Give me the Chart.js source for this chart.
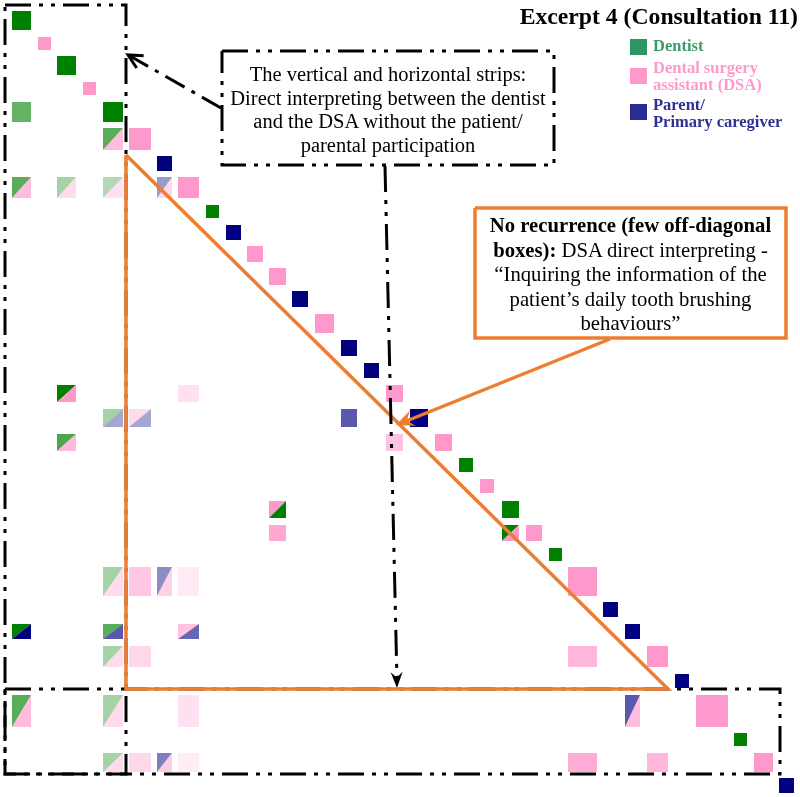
<!DOCTYPE html>
<html>
<head>
<meta charset="utf-8">
<script src="https://cdn.jsdelivr.net/npm/chart.js@4.4.1/dist/chart.umd.min.js"></script>
<style>
html,body{margin:0;padding:0;background:#fff;}
#wrap{position:relative;width:800px;height:797px;overflow:hidden;background:#fff;}
#c{position:absolute;left:0;top:0;}
.t{position:absolute;font-family:"Liberation Serif","Times New Roman",serif;color:#000;white-space:nowrap;}
.sq{position:absolute;width:17px;height:16px;}
.lg{position:absolute;left:653px;font-family:"Liberation Serif","Times New Roman",serif;font-weight:bold;font-size:16.5px;white-space:nowrap;}
</style>
</head>
<body>
<div id="wrap">
<canvas id="c" width="800" height="797"></canvas>

<div class="t" style="left:0;top:3px;width:798px;text-align:right;font-weight:bold;font-size:23.7px;line-height:26px;">Excerpt 4 (Consultation 11)</div>

<div class="sq" style="left:630px;top:39px;background:#2e9664;"></div>
<div class="lg" style="top:37px;line-height:17.5px;color:#3d9a6c;">Dentist</div>
<div class="sq" style="left:630px;top:68px;background:#ff99cc;"></div>
<div class="lg" style="top:59px;line-height:17.4px;color:#ff99cc;">Dental surgery<br>assistant (DSA)</div>
<div class="sq" style="left:630px;top:104px;background:#2b2b96;"></div>
<div class="lg" style="top:97px;line-height:16.6px;color:#2e3192;">Parent/<br>Primary caregiver</div>

<div class="t" style="left:222px;top:63px;width:332px;text-align:center;font-size:20.5px;line-height:23.5px;">The vertical and horizontal strips:<br>Direct interpreting between the dentist<br>and the DSA without the patient/<br>parental participation</div>

<div class="t" style="left:475px;top:213px;width:311px;text-align:center;font-size:20.7px;line-height:24.5px;"><b>No recurrence (few off-diagonal</b><br><b>boxes):</b> DSA direct interpreting -<br>“Inquiring the information of the<br>patient’s daily tooth brushing<br>behaviours”</div>
</div>

<script>
// ---------------- DATA ----------------
const turns = ['T1','T2','T3','T4','T5','T6','T7','T8','T9','T10','T11','T12','T13','T14','T15','T16','T17','T18','T19','T20','T21','T22','T23','T24','T25','T26','T27','T28','T29','T30','T31','T32','T33'];
const speakers = ['Dentist','DSA','Dentist','DSA','Dentist','DSA','Parent','DSA','Dentist','Parent','DSA','DSA','Parent','DSA','Parent','Parent','DSA','Parent','DSA','Dentist','DSA','Dentist','DSA','Dentist','DSA','Parent','Parent','DSA','Parent','DSA','Dentist','DSA','Parent'];
const turnStart  = [0,26,45,71,91,117,145,166,194,214,235,257,280,303,329,352,374,398,423,447,468,490,514,537,556,591,613,635,663,684,722,742,767];
const turnLength = [19,13,19,13,20,22,15,21,13,15,16,17,16,19,16,15,17,18,17,14,14,17,16,13,29,15,15,21,14,32,13,19,15];

// off-diagonal recurrences (row turn, column turn, strength)
const recRow = [5,6,8,8,8,8,17,17,18,18,18,19,19,22,23,23,25,25,25,25,27,27,27,28,28,28,30,30,30,30,32,32,32,32,32,32];
const recCol = [1,5,1,3,5,7,3,8,5,6,15,3,17,12,12,22,5,6,7,8,1,5,8,5,6,25,1,5,8,27,5,6,7,8,25,28];
const recStrength = [0.6,0.65,0.65,0.35,0.3,0.4,1,0.3,0.35,0.35,0.65,0.7,0.6,1,0.85,1,0.35,0.55,0.45,0.2,1,0.65,0.6,0.35,0.38,0.7,0.65,0.35,0.3,0.65,0.35,0.38,0.5,0.18,0.8,0.7];

const axisMax = 782;

// ---------------- STYLE ----------------
const speakerRGB = { Dentist:[0,128,0], DSA:[255,153,204], Parent:[0,0,128] };
function rgba(sp,a){ const c=speakerRGB[sp]; return 'rgba('+c[0]+','+c[1]+','+c[2]+','+a+')'; }

// ---------------- BUILD DATASETS ----------------
function cell(r,c,a){
  return {
    x: turnStart[c]+turnLength[c]/2, y: turnStart[r]+turnLength[r]/2,
    x0: turnStart[c], x1: turnStart[c]+turnLength[c],
    y0: turnStart[r], y1: turnStart[r]+turnLength[r],
    colA: speakers[c], colB: speakers[r], a: a, label: turns[r]+' × '+turns[c]
  };
}
const datasets = ['Dentist','DSA','Parent'].map(sp => ({
  label: sp,
  data: turns.map((t,i)=>i).filter(i=>speakers[i]===sp).map(i=>cell(i,i,1)),
  pointRadius: 0, backgroundColor: rgba(sp,1)
}));
datasets.push({
  label: 'Recurrence',
  data: recRow.map((r,k)=>cell(r-1, recCol[k]-1, recStrength[k])),
  pointRadius: 0
});

// ---------------- PLUGINS ----------------
const cellPlugin = {
  id: 'cells',
  afterDatasetsDraw(chart){
    const ctx = chart.ctx, xs = chart.scales.x, ys = chart.scales.y;
    ctx.save();
    chart.data.datasets.forEach(ds => {
      ds.data.forEach(p => {
        const X0 = xs.getPixelForValue(p.x0), X1 = xs.getPixelForValue(p.x1);
        const Y0 = ys.getPixelForValue(p.y0), Y1 = ys.getPixelForValue(p.y1);
        if (p.colA === p.colB) {
          ctx.fillStyle = rgba(p.colA, p.a);
          ctx.fillRect(X0, Y0, X1-X0, Y1-Y0);
        } else {
          ctx.fillStyle = 'rgba(255,255,255,1)';
          ctx.fillRect(X0, Y0, X1-X0, Y1-Y0);
          ctx.beginPath(); ctx.moveTo(X0,Y0); ctx.lineTo(X1,Y0); ctx.lineTo(X0,Y1); ctx.closePath();
          ctx.fillStyle = rgba(p.colA, p.a); ctx.fill();
          ctx.beginPath(); ctx.moveTo(X1,Y0); ctx.lineTo(X1,Y1); ctx.lineTo(X0,Y1); ctx.closePath();
          ctx.fillStyle = rgba(p.colB, p.a); ctx.fill();
        }
      });
    });
    ctx.restore();
  }
};

const annotPlugin = {
  id: 'annot',
  afterDraw(chart){
    const ctx = chart.ctx, xs = chart.scales.x, ys = chart.scales.y;
    const X = u => xs.getPixelForValue(u), Y = v => ys.getPixelForValue(v);
    const dash = [26,8,4,8,4,8];
    const black = '#000', orange = '#ed7d31';
    function line(pts, color, w, d){
      ctx.save(); ctx.strokeStyle=color; ctx.lineWidth=w; ctx.setLineDash(d||[]);
      ctx.beginPath(); pts.forEach((p,i)=> i? ctx.lineTo(X(p[0]),Y(p[1])) : ctx.moveTo(X(p[0]),Y(p[1])));
      ctx.stroke(); ctx.restore();
    }
    function rect(a,b,c,d,color,w,ds){ line([[a,b],[c,b],[c,d],[a,d],[a,b]],color,w,ds); }
    function head(from,to,color,len,half,filled){
      const x1=X(from[0]),y1=Y(from[1]),x2=X(to[0]),y2=Y(to[1]);
      const ang=Math.atan2(y2-y1,x2-x1);
      const bx=x2-len*Math.cos(ang), by=y2-len*Math.sin(ang);
      const nx=-Math.sin(ang), ny=Math.cos(ang);
      ctx.save();
      if(filled){
        const mx=x2-len*0.65*Math.cos(ang), my=y2-len*0.65*Math.sin(ang);
        ctx.fillStyle=color; ctx.beginPath();
        ctx.moveTo(x2,y2); ctx.lineTo(bx+nx*half,by+ny*half); ctx.lineTo(mx,my); ctx.lineTo(bx-nx*half,by-ny*half);
        ctx.closePath(); ctx.fill();
      } else {
        ctx.strokeStyle=color; ctx.lineWidth=3; ctx.beginPath();
        ctx.moveTo(bx+nx*half,by+ny*half); ctx.lineTo(x2,y2); ctx.lineTo(bx-nx*half,by-ny*half); ctx.stroke();
      }
      ctx.restore();
    }
    // vertical strip & horizontal strip (dash-dot-dot)
    rect(-7,-6,114,763, black, 3, dash);
    rect(-7,678,768,763, black, 3, dash);
    // text box
    rect(210,40,542,154, black, 3, dash);
    // arrow text box -> vertical strip
    line([[209,97],[118,45]], black, 3, [22,8,4,8]);
    head([209,97],[116,44], black, 14, 7, false);
    // orange triangle
    line([[114,144],[114,678],[656,678],[114,144]], orange, 3.5);
    // vertical arrow down to horizontal strip
    line([[373,155],[385,670]], black, 3, [26,8,4,8,4,8]);
    head([373,155],[385,677], black, 16, 6, true);
    // orange comment box and arrow
    rect(463,197,774,327, orange, 3.5);
    line([[598,328],[392,411]], orange, 3.5);
    head([598,328],[384,414], orange, 18, 8, true);
  }
};

new Chart(document.getElementById('c'), {
  type: 'scatter',
  data: { datasets },
  options: {
    responsive: false,
    animation: false,
    devicePixelRatio: 1,
    events: [],
    layout: { padding: { left: 12, right: 6, top: 11, bottom: 4 } },
    plugins: { legend: { display: false }, tooltip: { enabled: false }, title: { display: false } },
    scales: {
      x: { type: 'linear', min: 0, max: axisMax, display: false },
      y: { type: 'linear', min: 0, max: axisMax, reverse: true, display: false }
    }
  },
  plugins: [cellPlugin, annotPlugin]
});
</script>
</body>
</html>
